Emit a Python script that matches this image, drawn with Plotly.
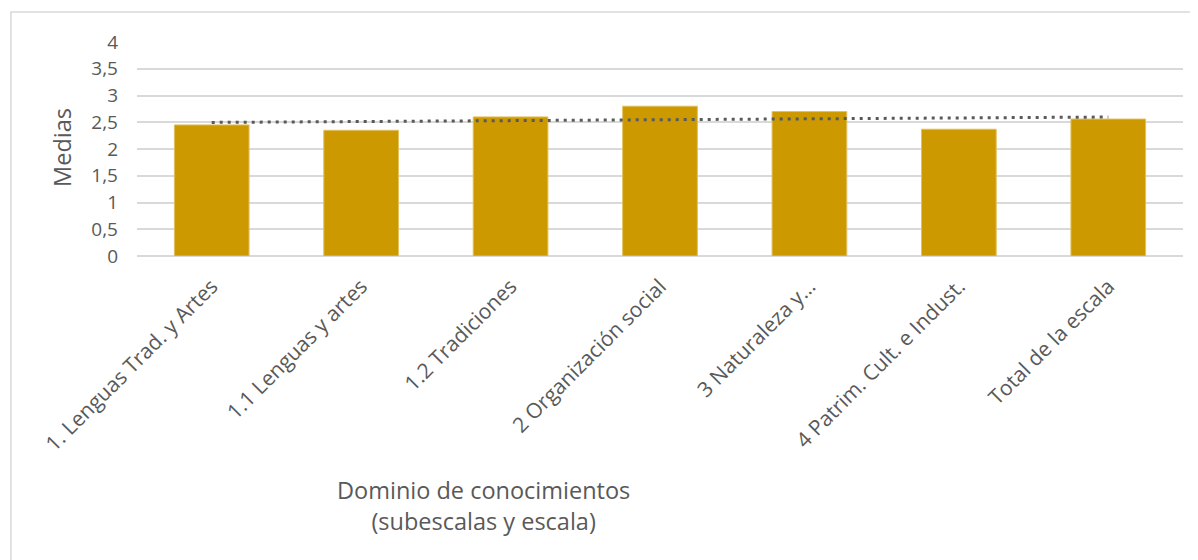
import numpy as np
import plotly.graph_objects as go

categories = [
    "1. Lenguas Trad. y Artes",
    "1.1 Lenguas y artes",
    "1.2 Tradiciones",
    "2 Organización social",
    "3 Naturaleza y…",
    "4 Patrim. Cult. e Indust.",
    "Total de la escala",
]
medias = [2.45, 2.35, 2.60, 2.80, 2.70, 2.37, 2.56]
y_ticks = [0, 0.5, 1, 1.5, 2, 2.5, 3, 3.5, 4]

# linear trendline (as in the spreadsheet chart), fitted to the bar values
xi = np.arange(1, len(medias) + 1)
slope, intercept = np.polyfit(xi, medias, 1)
trend = list(slope * xi + intercept)

FONT = "Open Sans"
GREY = "#595959"
GRID = "#d9d9d9"

fig = go.Figure()
fig.add_trace(go.Bar(
    x=categories, y=medias,
    marker=dict(color="#CC9900", line=dict(color="#e3c060", width=1)),
    width=0.5, showlegend=False,
))
fig.add_trace(go.Scatter(
    x=categories, y=trend, mode="lines",
    line=dict(color=GREY, width=3, dash="3px,5px"),
    showlegend=False,
))

fig.update_layout(
    width=1190, height=552,
    margin=dict(l=129, r=15, t=34, b=304),
    paper_bgcolor="white", plot_bgcolor="white",
    separators=",.",
    font=dict(family=FONT, color=GREY),
    xaxis=dict(
        tickangle=-45, tickfont=dict(size=21, color=GREY, family=FONT),
        showgrid=False, showline=False, ticks="", ticklabelstandoff=13,
    ),
    yaxis=dict(
        range=[0, 4], tickvals=y_ticks, showgrid=True, gridcolor=GRID, gridwidth=1.5,
        zeroline=True, zerolinecolor=GRID, zerolinewidth=1.5,
        tickfont=dict(size=19, color=GREY, family=FONT), ticks="", ticklabelstandoff=18,
    ),
    annotations=[
        dict(text="Medias", xref="paper", yref="paper", x=-0.0717, y=0.505,
             textangle=-90, showarrow=False, xanchor="center", yanchor="middle",
             font=dict(size=23.5, color=GREY, family=FONT)),
        dict(text="Dominio de conocimientos<br>(subescalas y escala)", xref="paper", yref="paper",
             x=0.3317, y=-1.164, showarrow=False, xanchor="center", yanchor="middle",
             font=dict(size=23.5, color=GREY, family=FONT)),
    ],
    shapes=[
        dict(type="rect", xref="paper", yref="paper", x0=-0.1205, x1=1.05, y0=-1.6, y1=1.140,
             line=dict(color=GRID, width=1.5), fillcolor="rgba(0,0,0,0)", layer="below"),
    ],
)

fig.write_html("out.html")
